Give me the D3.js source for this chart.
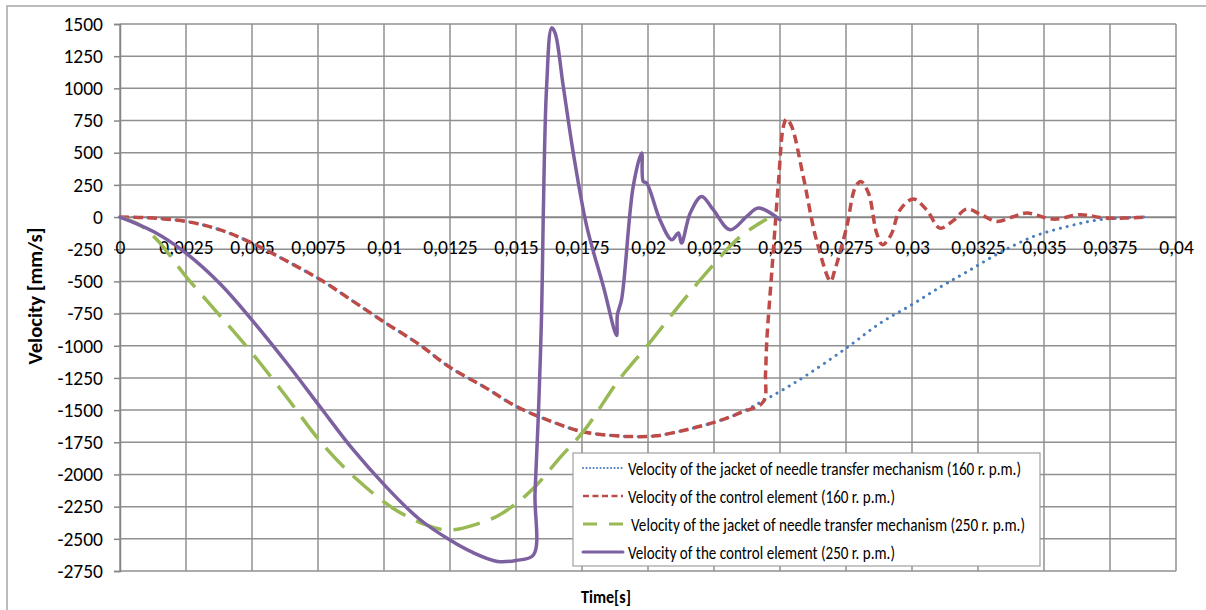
<!DOCTYPE html>
<html>
<head>
<meta charset="utf-8">
<script src="https://cdn.jsdelivr.net/npm/d3@7"></script>
<style>
  body { margin: 0; background: #fff; }
  text { font-family: Carlito, Calibri, Lato, sans-serif; fill: #000; }
</style>
</head>
<body>
<div id="chart"></div>
<script>
// tick labels (comma decimal, as in the original)
const xTicks = [0, 0.0025, 0.005, 0.0075, 0.01, 0.0125, 0.015, 0.0175, 0.02, 0.0225, 0.025, 0.0275, 0.03, 0.0325, 0.035, 0.0375, 0.04];
const xTickLabels = ['0', '0,0025', '0,005', '0,0075', '0,01', '0,0125', '0,015', '0,0175', '0,02', '0,0225', '0,025', '0,0275', '0,03', '0,0325', '0,035', '0,0375', '0,04'];
const yTicks = [1500, 1250, 1000, 750, 500, 250, 0, -250, -500, -750, -1000, -1250, -1500, -1750, -2000, -2250, -2500, -2750];

const seriesNames = [
  'Velocity of the jacket of needle transfer mechanism  (160 r. p.m.)',
  'Velocity of the control element (160 r. p.m.)',
  'Velocity of the jacket of needle transfer mechanism  (250 r. p.m.)',
  'Velocity of the control element (250 r. p.m.)'
];

// jacket 160 r.p.m.
const jacket160T = [0, 0.001, 0.0025, 0.0038, 0.005, 0.0063, 0.0076, 0.0088, 0.01, 0.0113, 0.0125, 0.0138, 0.015, 0.0163, 0.0175, 0.0188, 0.0195, 0.0203, 0.0215, 0.0226, 0.0235, 0.0243,
  0.0251, 0.026, 0.0275, 0.0288, 0.03, 0.0311, 0.0321, 0.0333, 0.0346, 0.0359, 0.0371, 0.0388];
const jacket160V = [0, -5, -34, -100, -202, -340, -488, -650, -815, -985, -1168, -1320, -1470, -1585, -1667, -1700, -1706, -1700, -1650, -1589, -1520, -1434,
  -1343, -1230, -1020, -824, -680, -540, -423, -280, -151, -73, -21, 0];

// control element 160 r.p.m.
const control160T = [0, 0.001, 0.0025, 0.0038, 0.005, 0.0063, 0.0076, 0.0088, 0.01, 0.0113, 0.0125, 0.0138, 0.015, 0.0163, 0.0175, 0.0188, 0.0195, 0.0203, 0.0215, 0.0226, 0.0235, 0.02437,
  0.02445, 0.0245, 0.02468, 0.02494, 0.02513, 0.02525, 0.02544, 0.02588, 0.02638, 0.02692, 0.02705, 0.02753, 0.02784, 0.02806, 0.02835, 0.02866, 0.02888, 0.0292,
  0.02955, 0.03005, 0.03055, 0.03106, 0.03155, 0.03207, 0.0326, 0.03321, 0.0338, 0.03434, 0.03535, 0.03636, 0.03737, 0.0389];
const control160V = [0, -5, -34, -100, -202, -340, -488, -650, -815, -985, -1168, -1320, -1470, -1585, -1667, -1700, -1706, -1700, -1650, -1589, -1520, -1434,
  -1220, -960, -450, 264, 705, 762, 705, 316, -177, -500, -430, -73, 225, 277, 187, -124, -215, -140,
  57, 140, 57, -86, -30, 62, 20, -34, 0, 31, -16, 18, -8, 0];

// jacket 250 r.p.m.
const jacket250T = [0, 0.0007, 0.0014, 0.0025, 0.0037, 0.0049, 0.0062, 0.0077, 0.009, 0.0104, 0.0117, 0.0125, 0.0136, 0.0143, 0.0151, 0.0157, 0.0167, 0.0176, 0.0189, 0.02, 0.0211, 0.0222, 0.0235, 0.0245];
const jacket250V = [0, -55, -177, -462, -746, -1032, -1369, -1771, -2043, -2270, -2400, -2432, -2380, -2323, -2210, -2100, -1862, -1654, -1265, -993, -708, -436, -151, -15];

// control element 250 r.p.m.
const control250T = [0, 0.0013, 0.0025, 0.0038, 0.005, 0.0063, 0.0076, 0.0088, 0.0101, 0.0113, 0.0125, 0.0133, 0.0143, 0.015, 0.01566,
  0.01572, 0.01585, 0.01597, 0.01603, 0.01616, 0.01635, 0.01648, 0.01679, 0.01717, 0.01768, 0.01831, 0.01881, 0.01884, 0.019, 0.01944, 0.01976, 0.01982, 0.01995,
  0.02045, 0.0209, 0.02115, 0.02127, 0.0216, 0.02203, 0.02247, 0.02311, 0.02374, 0.02418, 0.025];
const control250V = [0, -116, -280, -520, -800, -1130, -1480, -1800, -2100, -2340, -2510, -2600, -2676, -2668, -2626,
  -2146, -1524, -746, -21, 1016, 1470, 1431, 1016, 498, -73, -540, -920, -760, -640, 238, 498, 277, 264,
  -21, -177, -124, -202, 31, 160, 57, -99, 5, 70, -21];

const width = 1206, height = 610;
const plot = { left: 120, right: 1176, top: 24, bottom: 571 };
const font = 'Carlito, Calibri, Lato, sans-serif';

const svg = d3.select('#chart').append('svg')
  .attr('width', width)
  .attr('height', height);

// outer chart border (runs off the right and bottom edges)
svg.append('rect')
  .attr('x', 7).attr('y', 6)
  .attr('width', 1220).attr('height', 620)
  .attr('fill', 'none')
  .attr('stroke', '#a6a6a6')
  .attr('stroke-width', 1.5);

const x = d3.scaleLinear().domain([0, 0.04]).range([plot.left, plot.right]);
const y = d3.scaleLinear().domain([-2750, 1500]).range([plot.bottom, plot.top]);

// gridlines
svg.append('g')
  .selectAll('line')
  .data(xTicks)
  .join('line')
  .attr('x1', (d) => x(d)).attr('x2', (d) => x(d))
  .attr('y1', plot.top).attr('y2', plot.bottom)
  .attr('stroke', '#909090')
  .attr('stroke-width', 1.5);
svg.append('g')
  .selectAll('line')
  .data(yTicks)
  .join('line')
  .attr('x1', plot.left).attr('x2', plot.right)
  .attr('y1', (d) => y(d)).attr('y2', (d) => y(d))
  .attr('stroke', '#909090')
  .attr('stroke-width', 1.5);

// y axis with outside ticks
const yAxis = svg.append('g')
  .attr('transform', 'translate(' + plot.left + ',0)')
  .call(d3.axisLeft(y).tickValues(yTicks).tickSize(6).tickPadding(11).tickFormat((d) => String(d)));
yAxis.select('.domain').attr('stroke', '#868686').attr('stroke-width', 1.5);
yAxis.selectAll('.tick line').attr('stroke', '#868686').attr('stroke-width', 1.5);
yAxis.selectAll('.tick text')
  .style('font-size', '19.5px')
  .style('font-family', font)
  .attr('fill', '#000');

// x axis crosses at zero
const xAxis = svg.append('g')
  .attr('transform', 'translate(0,' + y(0) + ')')
  .call(d3.axisBottom(x).tickValues(xTicks).tickSize(0).tickPadding(37)
    .tickFormat((d, i) => xTickLabels[i]));
xAxis.select('.domain').attr('stroke', '#868686').attr('stroke-width', 1.5);
xAxis.selectAll('.tick text')
  .attr('dy', '0')
  .style('font-size', '19.5px')
  .style('font-family', font)
  .attr('fill', '#000');

// axis titles
svg.append('text')
  .attr('transform', 'translate(42,' + 296 + ') rotate(-90)')
  .attr('text-anchor', 'middle')
  .attr('textLength', 137)
  .attr('lengthAdjust', 'spacingAndGlyphs')
  .style('font-size', '19.5px')
  .style('font-weight', 'bold')
  .text('Velocity [mm/s]');
svg.append('text')
  .attr('x', 606).attr('y', 603)
  .attr('text-anchor', 'middle')
  .attr('textLength', 50)
  .attr('lengthAdjust', 'spacingAndGlyphs')
  .style('font-size', '19px')
  .style('font-weight', 'bold')
  .text('Time[s]');

// series
const styles = [
  { color: '#4a7ebb', width: 3, dash: '0.1,6.9', cap: 'round', legendDash: '0.1,3.4', legendWidth: 2 },
  { color: '#be4b48', width: 3.5, dash: '9,5', cap: 'butt', legendDash: '6,3.5', legendWidth: 2.5 },
  { color: '#98b954', width: 3.5, dash: '27,12', cap: 'butt', legendDash: '14,12', legendWidth: 3 },
  { color: '#7d60a0', width: 3.5, dash: null, cap: 'round', legendDash: null, legendWidth: 3 }
];
const series = [
  { t: jacket160T, v: jacket160V },
  { t: control160T, v: control160V },
  { t: jacket250T, v: jacket250V },
  { t: control250T, v: control250V }
];

const line = d3.line()
  .x((d) => x(d[0]))
  .y((d) => y(d[1]))
  .curve(d3.curveCatmullRom.alpha(0.5));

series.forEach((s, i) => {
  const pts = s.t.map((t, k) => [t, s.v[k]]);
  svg.append('path')
    .datum(pts)
    .attr('d', line)
    .attr('fill', 'none')
    .attr('stroke', styles[i].color)
    .attr('stroke-width', styles[i].width)
    .attr('stroke-linecap', styles[i].cap)
    .attr('stroke-linejoin', 'round')
    .attr('stroke-dasharray', styles[i].dash);
});

// legend
const legend = svg.append('g');
legend.append('rect')
  .attr('x', 573).attr('y', 453)
  .attr('width', 467).attr('height', 113)
  .attr('fill', '#fff')
  .attr('stroke', '#a0a0a0')
  .attr('stroke-width', 1.2);

const legendY = [468, 496, 524, 552];
const legendTextX = [628, 628, 631, 628];
const legendTextW = [393, 267, 394, 267];
seriesNames.forEach((name, i) => {
  legend.append('line')
    .attr('x1', 583).attr('x2', 623)
    .attr('y1', legendY[i]).attr('y2', legendY[i])
    .attr('stroke', styles[i].color)
    .attr('stroke-width', styles[i].legendWidth)
    .attr('stroke-linecap', styles[i].cap)
    .attr('stroke-dasharray', styles[i].legendDash);
  legend.append('text')
    .attr('x', legendTextX[i]).attr('y', legendY[i])
    .attr('dy', '0.35em')
    .attr('textLength', legendTextW[i])
    .attr('lengthAdjust', 'spacingAndGlyphs')
    .style('font-size', '19px')
    .text(name);
});
</script>
</body>
</html>
